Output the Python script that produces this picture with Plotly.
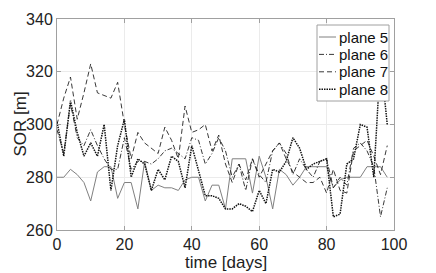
import plotly.graph_objects as go

days = list(range(0, 100, 2))

plane5 = [280, 280, 283, 281, 278, 271, 282, 284, 284, 272, 278, 278, 268, 286, 275, 277, 276, 276, 275, 279,
          280, 280, 271, 277, 277, 268, 287, 287, 287, 274, 288, 280, 268, 283, 281, 277, 280, 284, 284, 284,
          284, 276, 279, 280, 280, 280, 284, 284, 284, 280]
plane6 = [298, 289, 308, 295, 292, 298, 292, 287, 283, 283, 295, 283, 286, 286, 285, 287, 290, 291, 289, 287,
          295, 294, 285, 289, 295, 290, 280, 285, 275, 287, 281, 278, 290, 293, 289, 281, 287, 283, 280, 286,
          287, 276, 280, 277, 291, 293, 290, 284, 265, 276]
plane7 = [300, 310, 318, 302, 312, 323, 312, 311, 310, 316, 300, 287, 297, 293, 291, 289, 299, 294, 287, 307,
          297, 298, 300, 290, 296, 285, 278, 285, 279, 287, 280, 285, 290, 293, 287, 282, 280, 278, 278, 280,
          274, 283, 275, 274, 290, 292, 294, 288, 281, 292]
plane8 = [301, 288, 309, 297, 288, 293, 288, 300, 275, 292, 302, 280, 287, 285, 275, 283, 279, 288, 286, 276,
          292, 283, 273, 273, 272, 268, 268, 270, 269, 267, 275, 270, 283, 282, 286, 295, 291, 283, 285, 286,
          287, 265, 266, 285, 287, 300, 299, 280, 325, 300]

x_ticks = [0, 20, 40, 60, 80, 100]
y_ticks = [260, 280, 300, 320, 340]
names = ["plane 5", "plane 6", "plane 7", "plane 8"]
values = [plane5, plane6, plane7, plane8]

styles = [
    dict(color="#808080", width=1, dash="solid"),
    dict(color="#222222", width=0.9, dash="5px,2px,1px,2px"),
    dict(color="#222222", width=0.9, dash="5px,3px"),
    dict(color="#111111", width=1.5, dash="1.5px,1px"),
]

W, H = 428, 265
L, R, T, B = 49, 42, 11, 43
PW, PH = W - L - R, H - T - B

def px_x(p):
    return (p - L) / PW

def px_y(p):
    return (H - B - p) / PH

fig = go.Figure()
for name, vals, line in zip(names, values, styles):
    fig.add_trace(go.Scatter(x=days, y=vals, mode="lines", name=name, line=line, showlegend=False))

font = "Liberation Sans, Arial, Helvetica, sans-serif"
axis_common = dict(
    showline=True, linecolor="#a0a0a0", linewidth=1, mirror="ticks",
    showgrid=True, gridcolor="#ebebeb", gridwidth=1,
    ticks="inside", ticklen=4, tickcolor="#a0a0a0",
    zeroline=False, automargin=False,
    tickfont=dict(family=font, size=16, color="#222"),
)

shapes = []
annotations = []
# legend box
shapes.append(dict(type="rect", xref="paper", yref="paper",
                   x0=px_x(309), x1=px_x(381), y0=px_y(93), y1=px_y(17),
                   fillcolor="white", line=dict(color="#a0a0a0", width=1), layer="above"))
for i, (name, st) in enumerate(zip(names, styles)):
    yc = 29 + i * 17.4
    shapes.append(dict(type="line", xref="paper", yref="paper",
                       x0=px_x(311), x1=px_x(328), y0=px_y(yc), y1=px_y(yc),
                       line=st, layer="above"))
    annotations.append(dict(text=name, xref="paper", yref="paper", x=px_x(329), y=px_y(yc),
                            xanchor="left", yanchor="middle", showarrow=False,
                            font=dict(family=font, size=15, color="#111")))

annotations.append(dict(text="time [days]", xref="paper", yref="paper", x=0.5, y=px_y(254),
                        xanchor="center", yanchor="middle", showarrow=False,
                        font=dict(family=font, size=17, color="#222")))
annotations.append(dict(text="SOR [m]", xref="paper", yref="paper", x=px_x(12), y=0.5,
                        xanchor="center", yanchor="middle", showarrow=False, textangle=-90,
                        font=dict(family=font, size=17, color="#222")))

fig.update_layout(
    width=W, height=H,
    margin=dict(l=L, r=R, t=T, b=B, autoexpand=False),
    paper_bgcolor="white", plot_bgcolor="white",
    font=dict(family=font, size=16, color="#222"),
    xaxis=dict(range=[0, 100], tickvals=x_ticks, **axis_common),
    yaxis=dict(range=[260, 340], tickvals=y_ticks, **axis_common),
    shapes=shapes, annotations=annotations,
    showlegend=False,
)

fig.write_html("out.html")
